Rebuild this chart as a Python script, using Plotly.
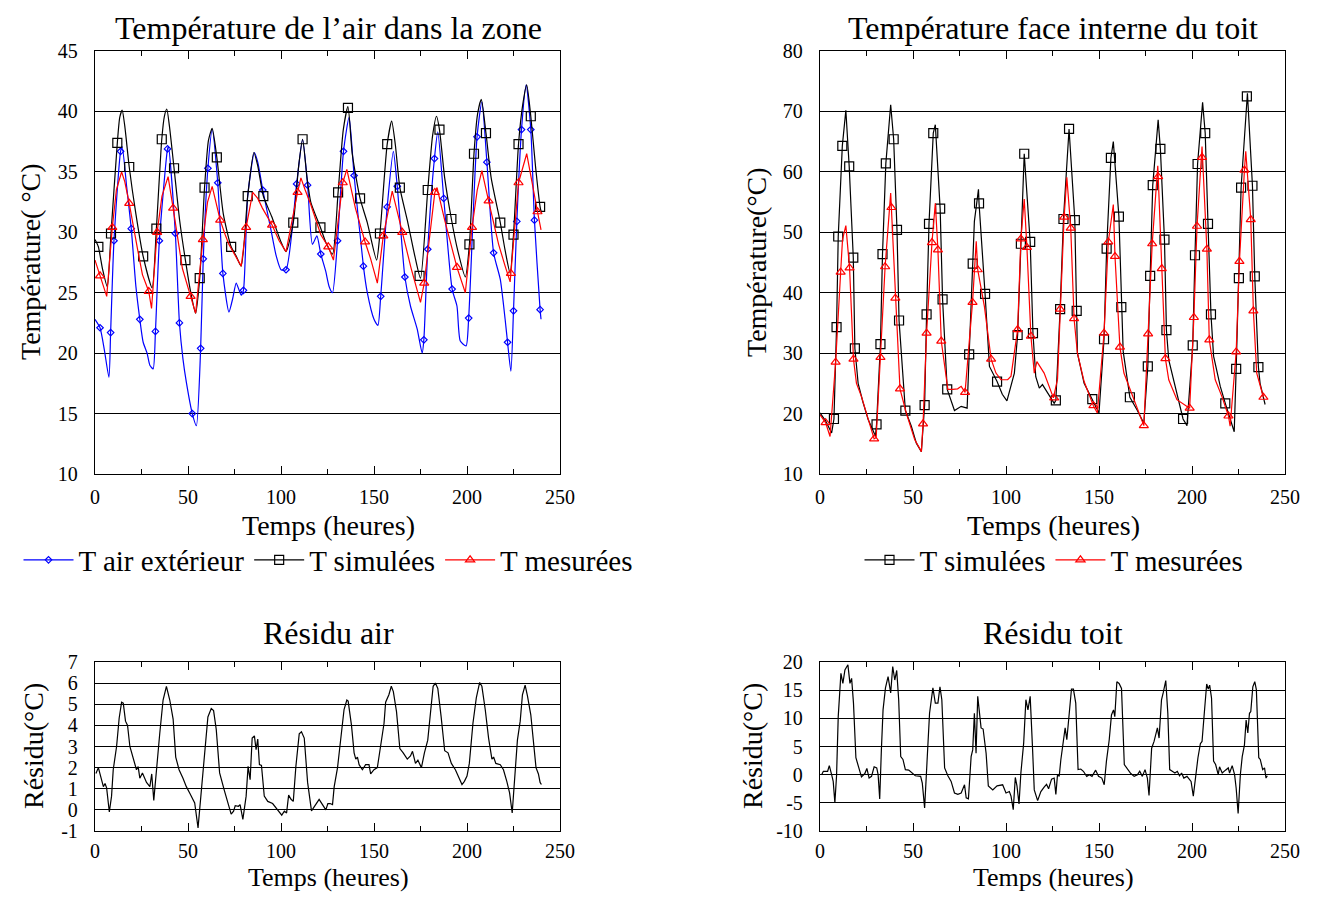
import plotly.graph_objects as go

# ---------------- data: air temperature (zone) ----------------
t_ext = [0, 2.7, 5, 7.5, 8.4, 10.2, 13.75, 14.6, 17, 19.5, 22, 24.1, 25.9, 28, 29.5, 31.25, 32.5, 34.6, 39, 39.5,
         43.2, 45.4, 47.3, 49.1, 52.3, 54.5, 56.8, 58.2, 60.7, 63, 66, 68.75, 72, 74, 75.9, 77.5, 78.6, 79.8,
         82.1, 85.7, 87.5, 90.2, 94.6, 97.5, 100, 102.7, 108.4, 111.6, 114.3, 116.9, 119.3, 121.4, 124, 125.9,
         127.7, 130.4, 133.6, 136.6, 139.3, 144.3, 146.4, 150, 152.1, 153.6, 157.1, 160.4, 162.5, 166.6, 169.6,
         173.2, 175.9, 176.8, 178.9, 182.5, 184.3, 187.5, 192, 194.6, 196.4, 199.5, 200.9, 205.4, 208, 210.7,
         214.3, 217.9, 220.5, 221.8, 223.6, 225, 226.8, 229.3, 231.8, 234.3, 236.25, 239.3, 239.8]
v_ext = [22.8, 22.1, 20.3, 18.0, 21.7, 29.3, 36.7, 37.1, 33.8, 30.3, 25.5, 22.8, 20.9, 20.0, 19.0, 18.7, 21.8, 29.3, 36.9, 37.1,
         29.9, 22.5, 19.5, 17.6, 15.0, 14.0, 20.4, 27.8, 35.3, 38.5, 34.1, 26.6, 23.4, 24.5, 25.8, 25.2, 24.8, 25.2,
         33.0, 36.6, 35.8, 33.5, 30.2, 28.0, 26.9, 26.9, 34.0, 37.7, 33.9, 29.0, 29.7, 28.2, 26.8, 25.5,
         25.0, 29.3, 36.7, 39.5, 34.7, 27.2, 25.0, 22.8, 22.3, 24.7, 32.1, 36.7, 33.8, 26.3, 23.9,
         22.0, 20.0, 21.1, 28.6, 36.1, 38.3, 32.8, 25.3, 23.9, 21.0, 20.6, 22.9, 37.9, 40.8, 35.8,
         28.3, 26.1, 22.8, 20.9, 18.5, 23.5, 30.9, 38.5, 42.2, 38.5, 31.0, 23.6, 22.8]
mk_ext_t = [2.7, 8.4, 10.2, 13.75, 19.5, 24.1, 32.5, 34.6, 39, 43.2, 45.4, 52.3, 56.8, 58.2, 60.7, 66, 68.75, 79.8,
            90.2, 102.7, 108.4, 114.3, 121.4, 130.4, 133.6, 139.3, 144.3, 153.6, 157.1, 162.5, 166.6, 176.8, 178.9,
            182.5, 187.5, 192, 200.9, 205.4, 210.7, 214.3, 221.8, 225, 226.8, 229.3, 234.3, 236.25, 239.3]
mk_ext_v = [22.1, 21.7, 29.3, 36.7, 30.3, 22.8, 21.8, 29.3, 36.9, 29.9, 22.5, 15.0, 20.4, 27.8, 35.3, 34.1, 26.6, 25.2,
            33.5, 26.9, 34.0, 33.9, 28.2, 29.3, 36.7, 34.7, 27.2, 24.7, 32.1, 33.8, 26.3, 21.1, 28.6,
            36.1, 32.8, 25.3, 22.9, 37.9, 35.8, 28.3, 20.9, 23.5, 30.9, 38.5, 38.5, 31.0, 23.6]

t_sim_air = [0, 1.8, 4, 6.6, 8.6, 12, 13.3, 14.6, 16, 18.4, 22, 25.9, 30.7, 33, 35.9, 37.3, 38.6, 40, 42.5, 45.5,
             48.6, 51.5, 54.1, 56.3, 58.9, 61, 63, 65.5, 69, 73.2, 76, 78.6, 82.1, 85.4, 87.5, 90.5, 95, 100, 102.7,
             106.6, 109.5, 111.6, 114, 116, 121.2, 124, 127.7, 130.7, 133.5, 136, 138.3, 142.5, 146.4, 151.4, 153.2,
             157.1, 159.5, 161.5, 163.9, 167.9, 172, 175, 178.9, 181.5, 183.6, 185.2, 188, 191.6, 195, 199.1, 201.3,
             203.75, 205.7, 207.7, 210.2, 213, 217.9, 220.5, 223.2, 225, 227.7, 230, 232.1, 234.3, 236.8, 239.3, 240]
v_sim_air = [29.4, 28.8, 27.0, 25.5, 29.9, 37.4, 39.5, 40.1, 38.8, 35.4, 31.5, 28.0, 25.4, 30.3, 37.7, 39.6, 40.2, 38.8, 35.3, 31.0,
             27.7, 25.0, 23.3, 26.2, 33.7, 37.6, 38.6, 36.2, 31.5, 28.8, 28.0, 27.2, 33.0, 36.6, 35.5, 33.0, 31.3, 29.2, 28.4,
             30.8, 35.5, 37.7, 34.5, 32.5, 30.4, 29.2, 28.2, 33.3, 38.5, 40.4, 36.5, 32.8, 30.8, 27.7, 29.9,
             37.3, 39.2, 37.2, 33.7, 31.0, 28.0, 26.2, 33.5, 38.0, 39.6, 38.5, 34.5, 31.1, 28.5, 26.3, 29.0,
             36.5, 39.8, 41.0, 38.2, 34.5, 30.8, 28.5, 26.6, 29.8, 37.3, 40.6, 42.2, 39.6, 35.5, 32.1, 31.6]
mk_sim_air_t = [1.8, 8.6, 12, 18.4, 25.9, 33, 35.9, 42.5, 48.6, 56.3, 58.9, 65.5, 73.2, 82.1, 90.5, 106.6, 111.6,
                121.2, 130.7, 136, 142.5, 153.2, 157.1, 163.9, 174.5, 178.9, 185.2, 191.6, 201.3, 203.75, 210.2,
                217.9, 225, 227.7, 234.3, 239.3]
mk_sim_air_v = [28.8, 29.9, 37.4, 35.4, 28.0, 30.3, 37.7, 35.3, 27.7, 26.2, 33.7, 36.2, 28.8, 33.0, 33.0, 30.8, 37.7,
                30.4, 33.3, 40.3, 32.8, 29.9, 37.3, 33.7, 26.4, 33.5, 38.5, 31.1, 29.0, 36.5, 38.2,
                30.8, 29.8, 37.3, 39.6, 32.1]

t_mes_air = [0, 2.7, 5, 6.3, 9.3, 11.5, 14.3, 16, 18.4, 21, 23, 25.5, 28.9, 30.4, 33.4, 36, 39.3, 42, 44.5, 47,
             51.4, 54.1, 58, 60.5, 63, 67.3, 70, 72, 78.6, 81.25, 84.8, 87.5, 90, 95.2, 99, 102.7, 108.9, 110.7,
             113, 116, 121.4, 125.4, 128.2, 133.2, 135.4, 140, 145.2, 148.2, 151.8, 155, 159.8, 165.2, 170, 175,
             177, 182.7, 183.9, 188, 194.6, 199.1, 202.7, 205.5, 208, 211.6, 217, 220.5, 223.2, 227.7, 232.1,
             237.9, 239.8]
v_mes_air = [27.7, 26.4, 25.2, 24.7, 30.4, 33.5, 35.0, 34.2, 32.4, 30.0, 28.5, 26.5, 25.1, 23.7, 30.0, 33.0, 34.6, 32.0, 29.5, 27.0,
             24.7, 23.3, 29.4, 32.5, 33.8, 31.0, 29.8, 29.0, 27.2, 30.4, 33.3, 32.8, 32.0, 30.6, 29.3, 28.4, 33.3, 34.5,
             33.5, 32.3, 29.8, 28.8, 27.7, 34.1, 35.2, 32.0, 29.2, 27.8, 25.8, 29.7, 33.4, 30.0, 27.0, 24.2,
             25.8, 33.3, 33.7, 31.0, 27.1, 25.0, 30.4, 33.5, 35.1, 32.6, 29.0, 27.2, 25.9, 34.1, 36.5,
             31.7, 30.2]
mk_mes_air_t = [2.7, 9.3, 18.4, 28.9, 33.4, 42, 51.4, 58, 67.3, 81.25, 95.2, 108.9, 125.4, 133.2, 145.2, 155,
                165.2, 177, 182.7, 194.6, 202.7, 211.6, 223.6, 227.7, 237.9]
mk_mes_air_v = [26.4, 30.4, 32.4, 25.1, 30.0, 32.0, 24.7, 29.4, 31.0, 30.4, 30.6, 33.3, 28.8, 34.1, 29.2, 29.7,
                30.0, 25.8, 33.3, 27.1, 30.4, 32.6, 26.6, 34.1, 31.7]

# ---------------- data: roof inner surface ----------------
t_sim_roof = [0, 3, 6.25, 7.5, 8.9, 9.8, 12, 13.9, 15.7, 17.9, 18.75, 20.5, 23, 25.9, 29.8, 30.4, 32.5, 33.6, 35.4,
              38, 39.6, 41.4, 42.5, 45.9, 49.1, 51.8, 54.5, 56.25, 57.3, 58.6, 60.9, 62, 64.6, 65.9, 68.4, 72.3,
              75.9, 79.1, 80.2, 82.1, 83, 85.2, 85.5, 88.75, 91.1, 95.2, 98, 100.5, 104.5, 106.25, 108, 109.8, 113,
              114.5, 116, 117.9, 119.6, 122.3, 125.9, 126.8, 129.1, 130.9, 133.9, 137, 138, 138.4, 142, 146.4, 150,
              152.7, 154.1, 156.4, 157.7, 160.7, 162, 163, 166.6, 170.5, 174.1, 176.25, 177.5, 178.9, 181.8, 183,
              185.2, 186.25, 187.5, 191.9, 195.2, 197.3, 200.4, 201.6, 203, 205.7, 207.1, 208.6, 210.2, 211.6,
              215.2, 217.9, 222.7, 223.75, 225.2, 226.4, 229.8, 232.5, 233.75, 235.7, 236.6, 239.3]
v_sim_roof = [20.1, 18.8, 16.8, 19.1, 34.3, 49.3, 64.3, 70.2, 60.9, 45.8, 30.8, 25.0, 22.0, 19.0, 16.3, 18.2, 31.5, 46.4, 61.4,
              71.1, 65.4, 50.4, 35.4, 20.5, 17.9, 15.1, 13.7, 21.4, 36.4, 51.4, 66.4, 67.8, 53.9, 38.9, 24.0, 20.5,
              21.2, 20.9, 29.8, 44.8, 51.8, 57.1, 54.8, 39.8, 27.8, 25.3, 23.2, 22.1, 26.7, 33.0, 48.1, 63.0, 48.4,
              33.3, 26.1, 24.2, 24.8, 23.4, 21.7, 22.2, 37.3, 52.2, 67.1, 52.0, 37.0, 30.0, 25.0, 22.4, 20.1,
              32.3, 47.3, 62.3, 65.0, 52.6, 37.6, 30.3, 22.7, 20.6, 18.4, 27.8, 42.8, 57.8, 68.6, 63.8,
              48.8, 33.8, 28.9, 23.4, 19.1, 18.0, 31.3, 46.2, 61.3, 71.5, 66.4, 51.4, 36.4, 29.5,
              24.5, 21.7, 17.0, 27.4, 42.4, 57.4, 73.0, 57.7, 42.7, 27.7, 25.0, 21.5]
mk_sim_roof_t = [7.5, 8.9, 9.8, 12, 15.7, 17.9, 18.75, 30.4, 32.5, 33.6, 35.4, 39.6, 41.4, 42.5, 45.9, 56.25, 57.3,
                 58.6, 60.9, 64.6, 65.9, 68.4, 80.2, 82.1, 85.5, 88.75, 95.2, 106.25, 108, 109.8, 113, 114.5, 126.8,
                 129.1, 130.9, 133.9, 137, 138, 146.4, 152.7, 154.1, 156.4, 160.7, 162, 166.6, 176.25, 177.5, 178.9,
                 183, 185.2, 186.25, 195.2, 200.4, 201.6, 203, 207.1, 208.6, 210.2, 217.9, 223.75, 225.2, 226.4,
                 229.5, 232.5, 233.75, 235.7]
mk_sim_roof_v = [19.1, 34.3, 49.3, 64.3, 60.9, 45.8, 30.8, 18.2, 31.5, 46.4, 61.4, 65.4, 50.4, 35.4, 20.5, 21.4, 36.4,
                 51.4, 66.4, 53.9, 38.9, 24.0, 29.8, 44.8, 54.8, 39.8, 25.3, 33.0, 48.1, 63.0, 48.4, 33.3, 22.2,
                 37.3, 52.2, 67.1, 52.0, 37.0, 22.4, 32.3, 47.3, 62.3, 52.6, 37.6, 22.7, 27.8, 42.8, 57.8,
                 63.8, 48.8, 33.8, 19.1, 31.3, 46.2, 61.3, 66.4, 51.4, 36.4, 21.7, 27.4, 42.4, 57.4,
                 72.5, 57.7, 42.7, 27.7]

t_mes_roof = [0, 3, 5.4, 8.4, 11.1, 12.1, 13.9, 15.9, 18, 19.6, 22.3, 25.9, 29.1, 30.2, 32.5, 35, 38, 38.4, 40.5, 43,
              46.4, 50.9, 54.5, 55.4, 57.3, 60.2, 62, 63.4, 65.2, 68.75, 71.4, 74, 75.9, 78, 82, 84, 84.8, 88.4, 92,
              94.6, 97.3, 100.9, 102.7, 104.5, 106.25, 108, 109.8, 111.25, 113.4, 115.2, 116.6, 120.5, 125.5, 127.7,
              129.1, 131.25, 132.7, 134.8, 136.6, 138.4, 142, 147, 149.1, 152.7, 155, 157.7, 158.6, 161.25, 163.4,
              168.75, 174.1, 176.4, 178.6, 181.6, 183.75, 185.7, 187.5, 191.9, 198.75, 201, 202.7, 205.4, 208,
              209.3, 212.5, 216.1, 219.6, 220.5, 223.75, 225.5, 228.2, 228.9, 231.6, 233, 234.8, 238.4]
v_mes_roof = [19.8, 18.5, 16.2, 28.5, 43.4, 48.8, 51.1, 44.1, 29.0, 25.0, 22.8, 19.0, 15.8, 16.0, 29.3, 44.3, 56.5, 54.1, 39.1, 24.1,
              20.1, 15.7, 13.7, 18.3, 33.3, 48.3, 54.8, 47.1, 32.0, 24.0, 24.0, 24.1, 24.5, 23.5, 38.4, 48.5, 43.8, 37.7, 29.0,
              26.7, 25.6, 25.6, 26.2, 30.0, 33.9, 48.9, 55.5, 47.5, 32.8, 26.7, 28.6, 26.7, 22.6, 25.7,
              37.3, 52.5, 59.1, 50.7, 35.7, 30.0, 25.3, 21.3, 20.1, 33.3, 48.4, 54.6, 46.0, 31.0, 26.7,
              22.3, 18.0, 33.2, 48.1, 61.0, 44.0, 29.1, 25.6, 22.3, 20.9, 35.9, 51.0, 64.2, 47.2,
              32.2, 25.6, 22.8, 19.6, 17.9, 30.2, 45.2, 60.3, 63.4, 52.1, 37.0, 26.7, 22.7]
mk_mes_roof_t = [3, 8.4, 11.1, 15.9, 18, 29.1, 32.5, 35, 38.4, 40.5, 43, 55.4, 57.3, 60.2, 63.4, 65.2, 78, 82, 84.8,
                 92, 106.25, 108, 111.25, 113.4, 125.9, 129.1, 131.25, 134.8, 136.6, 147, 152.7, 155, 158.6, 161.25,
                 174.1, 176.4, 178.6, 181.8, 183.75, 185.7, 198.75, 201, 202.7, 205.4, 208, 209.3, 219.6, 223.75,
                 225.5, 228.2, 231.6, 233, 238.4]
mk_mes_roof_v = [18.5, 28.5, 43.4, 44.1, 29.0, 15.8, 29.3, 44.3, 54.1, 39.1, 24.1, 18.3, 33.3, 48.3, 47.1, 32.0, 23.5, 38.4, 43.8,
                 29.0, 33.9, 48.9, 47.5, 32.8, 22.6, 37.3, 52.5, 50.7, 35.7, 21.3, 33.3, 48.4, 46.0, 31.0,
                 18.0, 33.2, 48.1, 59.2, 44.0, 29.1, 20.9, 35.9, 51.0, 62.4, 47.2, 32.2, 19.6, 30.2,
                 45.2, 60.3, 52.1, 37.0, 22.7]

# ---------------- data: residuals ----------------
t_res_air = [0.5, 1.8, 4.5, 5.4, 6.25, 7.7, 8.9, 9.8, 11.6, 13, 14.3, 15.2, 16.4, 17.5, 18.75, 20.5, 22.3, 23.2, 24.1,
             25.5, 27.7, 29.5, 30.5, 31.6, 33, 34.8, 36.6, 38.4, 40.2, 42, 43.4, 45.2, 47.3, 49.1, 50.9, 53.6, 55.4,
             57.1, 58.9, 60.7, 62.5, 63.75, 65.2, 67, 69.6, 71.4, 73.2, 74.5, 75.4, 77.1, 78, 79.5, 81.25, 82.3,
             83.4, 84.5, 85.7, 86.6, 87.5, 88.4, 89.5, 91, 92.9, 95.5, 98.2, 100.4, 101.8, 103, 104.1, 105.4, 106.6,
             108, 109.8, 111, 112.5, 114.3, 116.4, 118.2, 120.5, 122.3, 124.1, 125.2, 126.4, 127.7, 128.6, 130.4,
             132.1, 133.9, 135.4, 136.1, 137.9, 139.3, 140.2, 141.1, 142, 143.75, 145.5, 147.3, 148.2, 150, 151.8,
             153.6, 155.4, 156.25, 158, 159.3, 160.4, 162.1, 163.9, 165.7, 167.9, 169.6, 170.7, 172.3, 173.6,
             175.5, 177.1, 178.9, 180.4, 181.8, 183, 184.3, 186.1, 188, 189.8, 191.6, 193.75, 196.1, 197.3, 198.6,
             200, 201.25, 203.2, 205, 206.8, 208, 209.8, 211.6, 213.4, 214.3, 215.5, 217.9, 219.6, 221.4, 222.9,
             224.3, 225.9, 227.1, 228.6, 229.8, 231.25, 232.5, 234.3, 235.7, 237.1, 238.4, 239.3, 240]
v_res_air = [1.72, 2.0, 1.1, 1.25, 1.04, -0.1, 0.65, 1.9, 3.0, 4.35, 5.1, 5.05, 4.2, 4.0, 3.0, 2.5, 1.9, 2.05, 1.5,
             1.75, 1.3, 1.1, 1.7, 0.45, 1.9, 3.6, 5.2, 5.85, 5.2, 4.3, 2.5, 1.9, 1.5, 1.1, 0.8, 0.33, -0.85,
             0.8, 2.85, 4.4, 4.8, 4.7, 3.8, 1.75, 0.9, 0.33, -0.2, -0.06, 0.2, 0.17, 0.25, -0.45, 0.65, 2.06,
             1.43, 3.4, 3.5, 2.85, 3.35, 2.14, 2.1, 0.65, 0.4, 0.3, 0.0, -0.25, -0.06, -0.15, 0.7, 0.5, 0.4,
             2.06, 3.6, 3.7, 3.4, 1.3, -0.05, 0.2, 0.5, 0.25, 0.0, 0.3, 0.3, 0.25, 1.1, 2.0,
             3.3, 4.75, 5.2, 5.15, 4.0, 2.7, 2.4, 2.5, 2.14, 1.9, 2.14, 2.14, 1.7, 1.9, 2.0,
             3.0, 4.1, 5.1, 5.45, 5.85, 5.6, 4.65, 2.9, 2.7, 2.4, 2.55, 2.77, 2.2, 2.35,
             2.0, 2.7, 3.3, 4.7, 5.85, 6.0, 5.75, 4.4, 2.8, 2.7, 2.2, 1.9, 1.43, 1.2, 1.35,
             1.6, 2.2, 4.1, 5.3, 6.03, 5.85, 4.75, 3.4, 2.4, 2.5, 2.2, 2.14, 1.9, 1.35, 0.8,
             -0.15, 1.6, 3.3, 4.2, 5.45, 5.9, 5.4, 4.5, 3.3, 2.0, 1.7, 1.3, 1.2]

t_res_roof = [0.9, 1.8, 4.1, 5, 6.25, 7.1, 8, 8.9, 9.8, 11.25, 12.3, 13.4, 15, 16.1, 17, 18, 19.3, 20.5, 22.3, 24.1,
              25.2, 26.4, 27.7, 29.1, 30.5, 31.25, 32.1, 33, 33.9, 35.2, 36.6, 38, 39.1, 40.2, 41.25, 42.3, 43.4,
              44.6, 45.9, 47.7, 49.1, 51.25, 54.1, 55, 56.25, 57.7, 58.9, 60.7, 62, 63.4, 64.5, 65.5, 67, 68.75,
              70.5, 72.3, 74.1, 75.9, 77.7, 78.6, 79.8, 81.25, 82.1, 83, 83.9, 84.8, 86.6, 87.7, 89.3, 90.5, 92.9,
              95.2, 98.2, 100, 101.8, 102.7, 103.9, 105, 105.9, 107, 108, 109.5, 110.7, 111.8, 113, 114.3, 115.2,
              117, 118.75, 120.5, 121.8, 122.9, 124.5, 125.9, 126.8, 127.7, 128.6, 129.5, 130.9, 131.8, 132.7,
              133.9, 135.2, 136.25, 137.5, 138.75, 140.2, 141.6, 143.4, 144.8, 146.25, 148.2, 149.75, 151.5,
              152.8, 154, 155.5, 156.7, 157.8, 158.5, 159.6, 160.8, 162.1, 163.6, 165.4, 167.1, 168.9, 170.7,
              171.9, 173.3, 174.75, 176, 176.9, 178.3, 179.6, 181.4, 182.3, 183.6, 184.5, 185.9, 187, 188,
              189.4, 190.8, 192.1, 193.3, 194.4, 195.6, 197.3, 198.6, 199.5, 200.7, 202.1, 203.2, 204.5, 205.4,
              206.9, 207.9, 208.75, 209.5, 210.5, 211.6, 212.7, 214.1, 214.8, 216.25, 218, 219.5, 220.2, 221.6,
              222.9, 223.75, 224.8, 226, 227, 228.2, 229.1, 230, 230.9, 231.6, 232.7, 233.75, 234.6, 235.9,
              236.7, 238, 239, 239.8, 240.5]
v_res_roof = [0.0, 0.6, 0.6, 1.6, 0.0, -1.2, -5.0, -0.2, 10.3, 18.0, 16.2, 18.6, 19.5, 16.2, 17.1, 12.7, 3.0, 1.5, -0.4, 0.2,
              1.1, -0.6, -0.3, 1.4, 1.2, 0.0, -4.3, 4.4, 11.5, 15.4, 17.4, 14.5, 19.2, 16.8, 18.5, 13.3, 3.2,
              2.7, 0.9, 0.8, 0.4, -0.2, -0.3, -1.5, -5.9, 3.2, 10.9, 15.4, 12.7, 12.7, 15.6, 13.3, 1.2, -0.2,
              -1.2, -3.25, -3.5, -3.25, -1.8, -4.1, -4.3, 3.2, 4.4, 10.9, 3.8, 13.9, 8.3, 8.1, 3.8, -2.0, -2.7,
              -2.0, -1.8, -3.25, -3.0, -3.8, -6.2, -0.5, -2.0, -5.2, 0.3, 5.6, 13.3, 11.5, 13.9, 4.4, -2.7,
              -4.6, -3.0, -2.2, -1.7, -2.5, -0.8, -0.6, -3.5, 0.0, -0.3, 2.7, 5.9, 8.3, 6.2,
              11.2, 15.2, 15.2, 12.7, 0.9, 1.0, 0.6, -0.3, 0.0, -0.3, 0.8, -0.3, -0.6,
              -1.8, 2.4, 6.2, 10.6, 11.5, 10.3, 16.5, 16.2, 15.3, 1.8, 0.9, 0.2, -0.3, 0.0,
              0.6, -0.3, 0.9, -0.6, -3.7, 4.7, 5.9, 8.3, 6.5, 13.3, 14.5, 16.7, 10.9, 0.9,
              0.6, 0.3, 0.6, -0.2, 0.3, -0.6, -0.3, -0.8, -1.2, -3.8, 0.3, 3.0, 5.5, 5.9,
              12.1, 16.1, 15.2, 15.9, 13.6, 2.4, 1.8, 0.0, 1.4, 0.3, 0.8, 1.2, 0.3, 1.6,
              0.0, -2.4, -6.9, 0.0, 3.2, 5.3, 9.7, 7.4, 10.9, 11.2, 15.6, 16.5, 15.1, 3.0,
              2.7, 0.9, 1.2, -0.6, -0.2]

# tick labels
x_ticks = [0, 50, 100, 150, 200, 250]
y_air_ticks = [10, 15, 20, 25, 30, 35, 40, 45]
y_roof_ticks = [10, 20, 30, 40, 50, 60, 70, 80]
y_res_air_ticks = [-1, 0, 1, 2, 3, 4, 5, 6, 7]
y_res_air_labels = ["-1", "0", "1", "2", "3", "4", "5", "6", "7"]
y_res_roof_ticks = [-10, -5, 0, 5, 10, 15, 20]
y_res_roof_labels = ["-10", "-5", "0", "5", "10", "15", "20"]

# ---------------- figure ----------------
# the page body has an 8 px margin, so the figure is laid out in page pixels shifted by it
PAGE_W, PAGE_H, BODY = 1317, 902, 8
W, H = PAGE_W - 2 * BODY, PAGE_H - 2 * BODY
FONT = "Liberation Serif"
BLUE, BLACK, RED = "#0000ff", "#000000", "#ff0000"

fig = go.Figure()


def px_x(p):
    return (p - BODY) / W


def px_y(p):
    return 1 - (p - BODY) / H


def add_series(t, v, mt, mv, color, symbol, msize, name, xa, ya, legend, spline=False):
    fig.add_trace(go.Scatter(x=t, y=v, mode="lines", xaxis=xa, yaxis=ya, showlegend=False,
                             line=dict(color=color, width=1.2,
                                       shape="spline" if spline else "linear", smoothing=0.6),
                             hoverinfo="skip"))
    fig.add_trace(go.Scatter(x=mt, y=mv, mode="markers", xaxis=xa, yaxis=ya, showlegend=False,
                             marker=dict(symbol=symbol, size=msize, color=color,
                                         line=dict(color=color, width=1.2)),
                             hoverinfo="skip"))
    fig.add_trace(go.Scatter(x=[None], y=[None], mode="lines+markers", xaxis=xa, yaxis=ya,
                             name=name, legend=legend,
                             line=dict(color=color, width=1.2),
                             marker=dict(symbol=symbol, size=msize, color=color,
                                         line=dict(color=color, width=1.2))))


add_series(t_ext, v_ext, mk_ext_t, mk_ext_v, BLUE, "diamond-open", 5, "T air extérieur", "x", "y", "legend", True)
add_series(t_sim_air, v_sim_air, mk_sim_air_t, mk_sim_air_v, BLACK, "square-open", 9, "T simulées", "x", "y", "legend", True)
add_series(t_mes_air, v_mes_air, mk_mes_air_t, mk_mes_air_v, RED, "triangle-up-open", 8, "T mesurées", "x", "y", "legend", False)

add_series(t_sim_roof, v_sim_roof, mk_sim_roof_t, mk_sim_roof_v, BLACK, "square-open", 9, "T simulées", "x2", "y2", "legend2", False)
add_series(t_mes_roof, v_mes_roof, mk_mes_roof_t, mk_mes_roof_v, RED, "triangle-up-open", 8, "T mesurées", "x2", "y2", "legend2", False)

fig.add_trace(go.Scatter(x=t_res_air, y=v_res_air, mode="lines", xaxis="x3", yaxis="y3", showlegend=False,
                         line=dict(color=BLACK, width=1.2), hoverinfo="skip"))
fig.add_trace(go.Scatter(x=t_res_roof, y=v_res_roof, mode="lines", xaxis="x4", yaxis="y4", showlegend=False,
                         line=dict(color=BLACK, width=1.2), hoverinfo="skip"))

xdom_l = [px_x(95), px_x(560)]
xdom_r = [px_x(820), px_x(1285)]
ydom_t = [px_y(474), px_y(51)]
ydom_b = [px_y(831), px_y(662)]

tick_font = dict(family=FONT, size=20, color="black")


def xaxis(dom, anchor, standoff=5):
    return dict(domain=dom, anchor=anchor, range=[0, 250], tickvals=x_ticks, ticks="inside", ticklen=8,
                tickwidth=1, tickcolor="black", showline=True, linecolor="black", linewidth=1.3,
                mirror="ticks", showgrid=False, zeroline=False, tickfont=tick_font,
                ticklabelstandoff=standoff, automargin=False,
                minor=dict(dtick=25, tick0=0, ticks="inside", ticklen=5, tickcolor="black", tickwidth=1,
                           showgrid=False))


def yaxis(dom, anchor, rng, vals, labels=None):
    d = dict(domain=dom, anchor=anchor, range=rng, tickvals=vals, ticks="", showline=True,
             linecolor="black", linewidth=1.3, mirror=True, showgrid=True, gridcolor="black",
             gridwidth=1.1, zeroline=False, tickfont=tick_font, ticklabelstandoff=12, automargin=False)
    if labels is not None:
        d["ticktext"] = labels
    return d


legend_font = dict(family=FONT, size=29, color="black")
fig.update_layout(
    width=W, height=H, margin=dict(l=0, r=0, t=0, b=0, pad=0, autoexpand=False),
    paper_bgcolor="white", plot_bgcolor="white",
    font=dict(family=FONT, color="black"),
    xaxis=xaxis(xdom_l, "y"), yaxis=yaxis(ydom_t, "x", [10, 45], y_air_ticks),
    xaxis2=xaxis(xdom_r, "y2"), yaxis2=yaxis(ydom_t, "x2", [10, 80], y_roof_ticks),
    xaxis3=xaxis(xdom_l, "y3", 2), yaxis3=yaxis(ydom_b, "x3", [-1, 7], y_res_air_ticks, y_res_air_labels),
    xaxis4=xaxis(xdom_r, "y4", 2), yaxis4=yaxis(ydom_b, "x4", [-10, 20], y_res_roof_ticks, y_res_roof_labels),
    legend=dict(orientation="h", x=px_x(328), y=px_y(560), xanchor="center", yanchor="middle",
                font=legend_font, bgcolor="rgba(0,0,0,0)", itemwidth=50, itemclick=False),
    legend2=dict(orientation="h", x=px_x(1054), y=px_y(560), xanchor="center", yanchor="middle",
                 font=legend_font, bgcolor="rgba(0,0,0,0)", itemwidth=50, itemclick=False),
    showlegend=True,
)

ann = []
title_font = dict(family=FONT, size=32, color="black")
label_font = dict(family=FONT, size=28, color="black")
bottom_label_font = dict(family=FONT, size=26, color="black")
for txt, xc in [("Température de l’air dans la zone", 328),
                ("Température face interne du toit", 1053)]:
    ann.append(dict(text=txt, x=px_x(xc), y=1, xref="paper", yref="paper", showarrow=False,
                    xanchor="center", yanchor="top", font=title_font))
for txt, xc, yc in [("Résidu air", 328, 633), ("Résidu toit", 1053, 633)]:
    ann.append(dict(text=txt, x=px_x(xc), y=px_y(yc), xref="paper", yref="paper", showarrow=False,
                    xanchor="center", yanchor="middle", font=title_font))
for txt, xc, yc in [("Temps (heures)", 328, 525), ("Temps (heures)", 1053, 525)]:
    ann.append(dict(text=txt, x=px_x(xc), y=px_y(yc), xref="paper", yref="paper", showarrow=False,
                    xanchor="center", yanchor="middle", font=label_font))
for txt, xc in [("Temps (heures)", 328), ("Temps (heures)", 1053)]:
    ann.append(dict(text=txt, x=px_x(xc), y=0, xref="paper", yref="paper", showarrow=False,
                    xanchor="center", yanchor="bottom", font=bottom_label_font))
for txt, xc, yc in [("Température( °C)", 31, 262), ("Température(°C)", 757, 262),
                    ("Résidu(°C)", 33, 746), ("Résidu(°C)", 752, 746)]:
    ann.append(dict(text=txt, x=px_x(xc), y=px_y(yc), xref="paper", yref="paper", showarrow=False,
                    xanchor="center", yanchor="middle", textangle=-90, font=label_font))
fig.update_layout(annotations=ann)

fig.write_html("out.html")
